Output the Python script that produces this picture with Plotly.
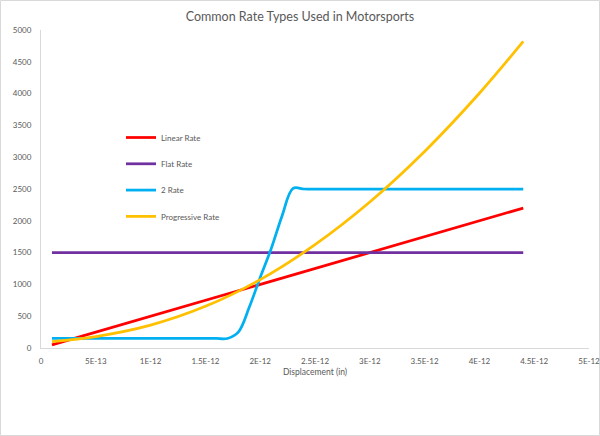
import plotly.graph_objects as go

# Data (displacement in inches, rate)
linear_x = [1e-13, 4.4e-12]
linear_y = [50, 2200]

flat_x = [1e-13, 4.4e-12]
flat_y = [1500, 1500]

two_x = [1e-13, 5e-13, 1.0e-12, 1.4e-12, 1.5e-12, 1.6e-12, 1.7e-12, 1.8e-12, 1.9e-12, 2.0e-12,
         2.1e-12, 2.2e-12, 2.3e-12, 2.4e-12, 2.5e-12, 3.0e-12, 3.5e-12, 4.0e-12, 4.4e-12]
two_y = [150, 150, 150, 150, 150, 150, 150, 250, 640, 1110,
         1560, 2080, 2510, 2500, 2500, 2500, 2500, 2500, 2500]

prog_x = [1e-13, 5e-13, 1.0e-12, 1.5e-12, 2.0e-12, 2.5e-12, 3.0e-12, 3.5e-12, 4.0e-12, 4.4e-12]
prog_y = [100, 180, 360, 655, 1075, 1625, 2295, 3090, 4005, 4820]

x_tickvals = [0, 5e-13, 1e-12, 1.5e-12, 2e-12, 2.5e-12, 3e-12, 3.5e-12, 4e-12, 4.5e-12, 5e-12]
x_ticktext = ["0", "5E-13", "1E-12", "1.5E-12", "2E-12", "2.5E-12", "3E-12", "3.5E-12", "4E-12", "4.5E-12", "5E-12"]
y_tickvals = [0, 500, 1000, 1500, 2000, 2500, 3000, 3500, 4000, 4500, 5000]

series = [
    ("Linear Rate", linear_x, linear_y, "#FF0000"),
    ("Flat Rate", flat_x, flat_y, "#7030A0"),
    ("2 Rate", two_x, two_y, "#00B0F0"),
    ("Progressive Rate", prog_x, prog_y, "#FFC000"),
]

fig = go.Figure()
for name, xs, ys, col in series:
    fig.add_trace(go.Scatter(
        x=xs, y=ys, name=name, mode="lines", legendgroup=name,
        line=dict(color=col, width=2.75, shape="spline", smoothing=1.0),
    ))

W, H = 600, 436
L, R, T, B = 41, 11, 30, 88
pw, ph = W - L - R, H - T - B

font = "Lato, 'Open Sans', sans-serif"
fig.update_layout(
    width=W, height=H,
    margin=dict(l=L, r=R, t=T, b=B, pad=0, autoexpand=False),
    paper_bgcolor="white", plot_bgcolor="white",
    font=dict(family=font, color="#595959", size=8),
    title=dict(text="Common Rate Types Used in Motorsports", x=0.5, xanchor="center",
               y=1 - 17 / H, yanchor="middle", font=dict(size=12.5, color="#595959", family=font)),
    showlegend=True,
    legend=dict(x=(121 - L) / pw, y=(348 - 123) / ph, xanchor="left", yanchor="top",
                bgcolor="rgba(0,0,0,0)", font=dict(size=8, color="#595959"),
                traceorder="grouped", tracegroupgap=7.3),
    xaxis=dict(range=[0, 5e-12], tickvals=x_tickvals, ticktext=x_ticktext, automargin=False,
               showgrid=False, zeroline=False, showline=True, linecolor="#D9D9D9", linewidth=1,
               ticks="", tickfont=dict(size=8, color="#595959"), ticklabelstandoff=5,
               ticklabeloverflow="allow",
               title=dict(text="Displacement (in)", font=dict(size=8.5, color="#595959"), standoff=4)),
    yaxis=dict(range=[0, 5000], tickvals=y_tickvals, automargin=False,
               showgrid=False, zeroline=False, showline=True, linecolor="#D9D9D9", linewidth=1,
               ticks="", tickfont=dict(size=8, color="#595959"), ticklabelstandoff=7),
    shapes=[dict(type="rect", xref="paper", yref="paper",
                 x0=(0.5 - L) / pw, x1=(W - 0.5 - L) / pw,
                 y0=-(H - 0.5 - (T + ph)) / ph, y1=(T + ph - 0.5) / ph,
                 line=dict(color="#D9D9D9", width=1), fillcolor="rgba(0,0,0,0)", layer="below")],
)

fig.write_html("out.html")
